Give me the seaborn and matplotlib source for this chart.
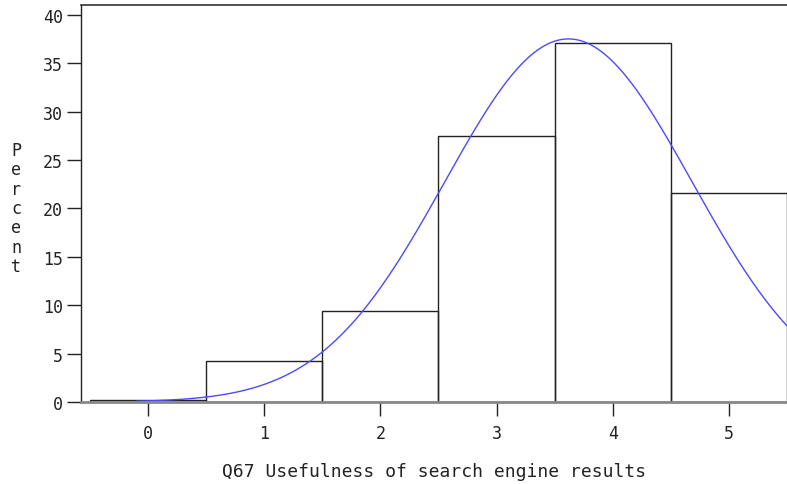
import numpy as np
import pandas as pd
import matplotlib
matplotlib.use("Agg")
import matplotlib.pyplot as plt
import seaborn as sns

# Response categories and percent of respondents in each
scores = [0, 1, 2, 3, 4, 5]
percent = [0.2, 4.2, 9.4, 27.5, 37.1, 21.6]
y_ticks = [0, 5, 10, 15, 20, 25, 30, 35, 40]
x_ticks = [0, 1, 2, 3, 4, 5]

sns.set_theme(style="white")
plt.rcParams["font.family"] = ["DejaVu Sans Mono", "DejaVu Sans"]

df = pd.DataFrame({"score": scores, "percent": percent})

fig = plt.figure(figsize=(7.87, 4.85), dpi=100)
ax = fig.add_axes([0.1029, 0.1691, 0.8971, 0.8185])

sns.histplot(data=df, x="score", weights="percent", discrete=True,
             fill=False, color="#222222", linewidth=1.0, ax=ax)

# Fitted normal curve from the distribution's mean and standard deviation
s = np.array(scores, float)
w = np.array(percent, float)
mu = np.sum(s * w) / w.sum()
sd = np.sqrt(np.sum(w * (s - mu) ** 2) / w.sum())
xs = np.linspace(-0.1, 5.5, 400)
ys = w.sum() * np.exp(-0.5 * ((xs - mu) / sd) ** 2) / (sd * np.sqrt(2 * np.pi))
sns.lineplot(x=xs, y=ys, color="#4a4aff", linewidth=1.0, ax=ax)

ax.set_xlim(-0.576, 5.5)
ax.set_ylim(0, 41.0)
ax.set_xticks(x_ticks)
ax.set_yticks(y_ticks)
ax.set_xticklabels([str(t) for t in x_ticks], fontsize=12)
ax.set_yticklabels([str(t) for t in y_ticks], fontsize=12)
ax.tick_params(axis="both", which="both", direction="out", length=10,
               width=1, color="#222222", labelcolor="#222222",
               bottom=True, left=True)
ax.tick_params(axis="x", pad=6)
ax.tick_params(axis="y", pad=3)

ax.spines["right"].set_visible(False)
ax.spines["left"].set_color("#222222")
ax.spines["left"].set_linewidth(1.0)
ax.spines["top"].set_color("#333333")
ax.spines["top"].set_linewidth(1.2)
ax.spines["bottom"].set_color("#888888")
ax.spines["bottom"].set_linewidth(2.0)

ax.set_xlabel("Q67 Usefulness of search engine results", fontsize=13,
              color="#222222", labelpad=14)
ax.set_ylabel("")
fig.text(0.0203, 0.569, "P\ne\nr\nc\ne\nn\nt", fontsize=12, color="#222222",
         ha="center", va="center", linespacing=1.1)

fig.savefig("out.png", dpi=100)
